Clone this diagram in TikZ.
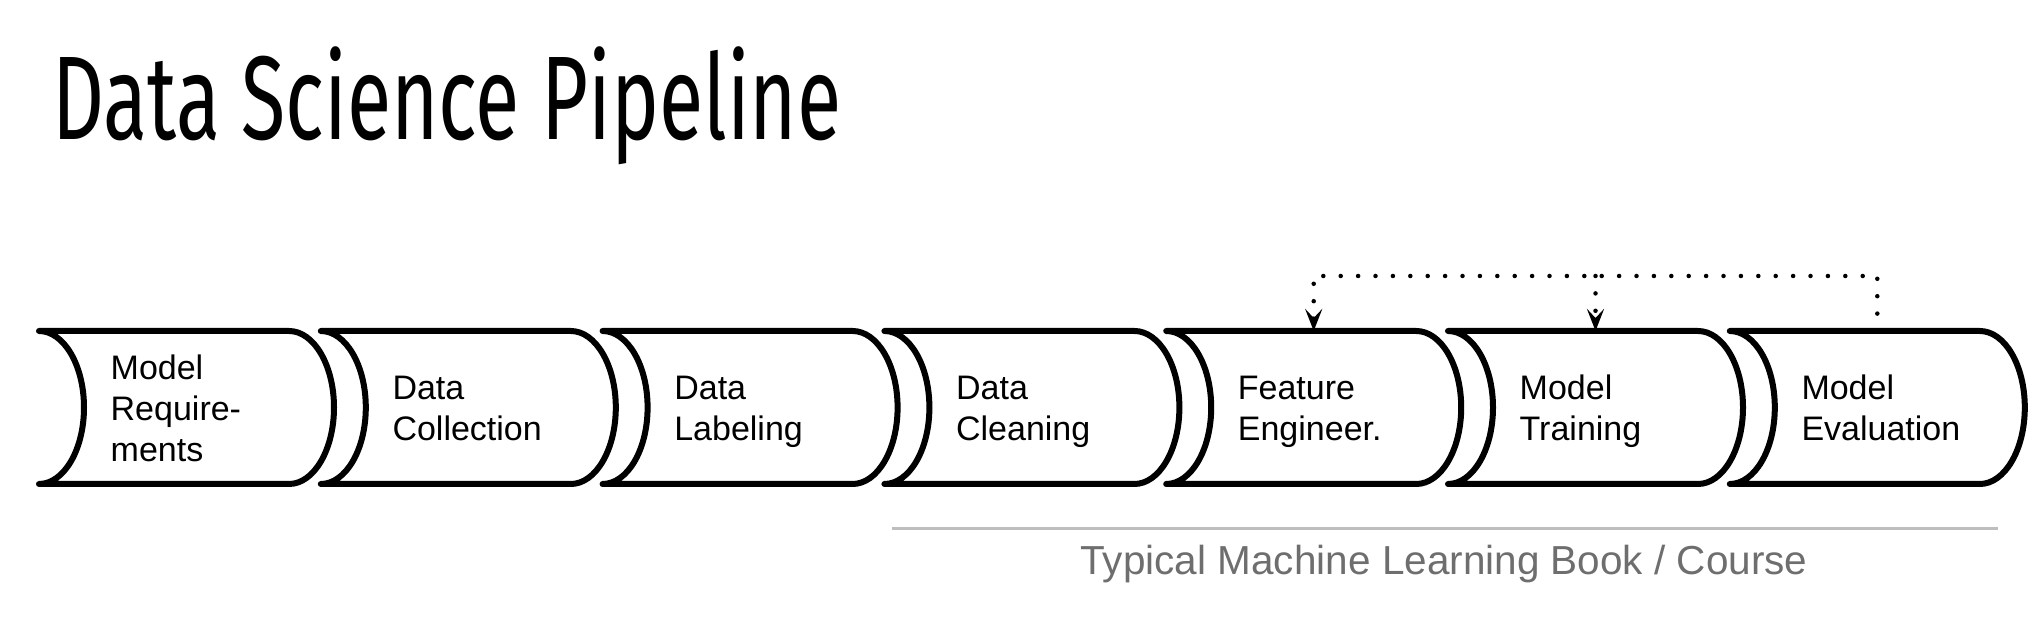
\documentclass[tikz,border=0pt]{standalone}
\usepackage{fontspec}
\setmainfont{Liberation Sans}
\newfontfamily\titlefont[FakeStretch=0.68]{Fira Sans}
\usetikzlibrary{arrows.meta}
\definecolor{rulegray}{RGB}{190,190,190}
\definecolor{textgray}{RGB}{110,110,110}
\tikzset{
  stagebox/.style={minimum width=295pt, minimum height=153pt, inner sep=0pt, outer sep=0pt},
  stageline/.style={line width=6pt, line join=round},
  stagetext/.style={anchor=west, align=left, inner sep=0pt, font=\fontsize{34}{41}\selectfont},
  feedback/.style={line width=4.5pt, line cap=round, dash pattern=on 0pt off 17.4pt},
  fbtip/.style={-{Stealth[length=22pt, width=17pt, inset=9pt]}},
}
\begin{document}
\begin{tikzpicture}[x=1pt,y=1pt]
\path[use as bounding box] (0,0) rectangle (2038,620);
\node[anchor=base west, inner sep=0pt, font=\titlefont\fontsize{119}{119}\selectfont] (title) at (52,480) {Data Science Pipeline};
\foreach \i/\txt in {1/{\strut Model\\Require-\\ments\strut}, 2/{\strut Data\\Collection\strut}, 3/{\strut Data\\Labeling\strut}, 4/{\strut Data\\Cleaning\strut}, 5/{\strut Feature\\Engineer.\strut}, 6/{\strut Model\\Training\strut}, 7/{\strut Model\\Evaluation\strut}}{
  \pgfmathsetmacro\xz{39+281.8*(\i-1)}
  \node[stagebox] (b\i) at (\xz+147.5,212.5) {};
  \draw[stageline] (b\i.north west) -- ++(250,0)
     arc[start angle=90, end angle=-90, x radius=45pt, y radius=76.5pt]
     -- (b\i.south west)
     arc[start angle=-90, end angle=90, x radius=45pt, y radius=76.5pt] -- cycle;
  \node[stagetext] (t\i) at ([xshift=71.5pt, yshift=-4.5pt]b\i.west) {\txt};
}
\coordinate (fb) at (0,344);
\draw[feedback, fbtip] (b7.north) |- (b5.north |- fb) -- (b5.north);
\draw[feedback, fbtip] (b6.north |- fb) -- (b6.north);
\coordinate (r1) at (892,91);
\coordinate (r2) at (1998,91);
\draw[rulegray, line width=3pt] (r1) -- (r2);
\node[text=textgray, font=\fontsize{40.5}{40.5}\selectfont, anchor=base, inner sep=0pt] (course) at (1444,45.5) {Typical Machine Learning Book / Course};
\end{tikzpicture}
\end{document}
